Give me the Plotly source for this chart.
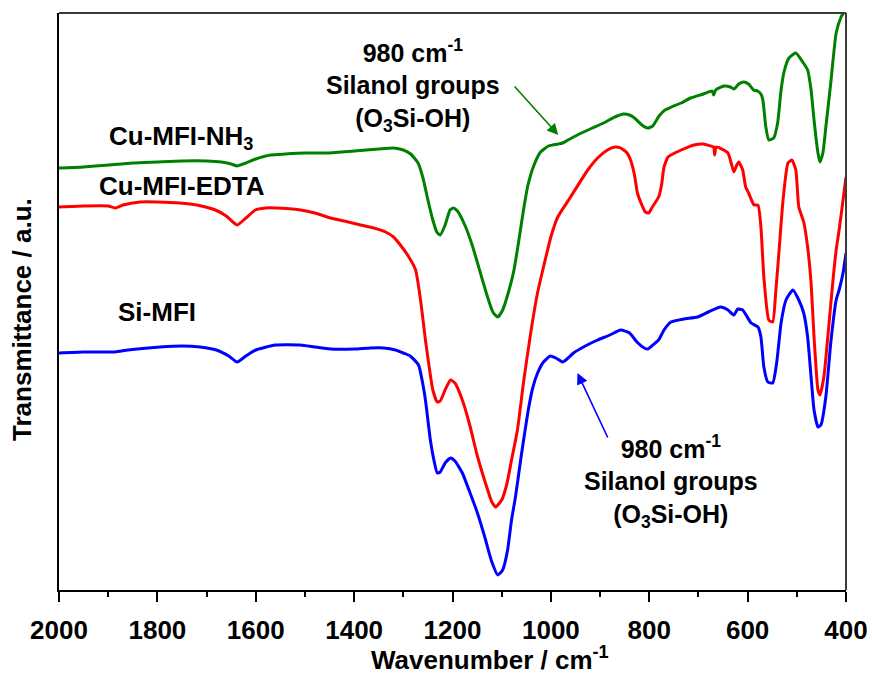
import plotly.graph_objects as go

# ---- data (wavenumber cm-1, transmittance a.u.) ----
nh3_wn = [2000,1950,1900,1850,1800,1750,1700,1670,1650,1638,1620,1600,1570,1540,1500,1450,1400,1350,1320,1300,1285,1270,1260,1250,1240,1232,1225,1215,1205,1198,1190,1175,1160,1145,1130,1118,1108,1098,1085,1075,1065,1055,1047,1035,1021,1005,996,985,976,965,946,920,893,870,852,840,830,815,803,793,780,768,755,735,716,690,672,669,665,648,635,628,618,608,598,588,580,573,569,563,557,547,539,532,526,516,502,488,478,471,465,457,453,447,441,431,420,410,404,400]
nh3_py = [168,167,165,163,162,161,161,162,164,166,163,159,155,154,153,153,151,149,148,150,154,163,178,200,220,232,235,225,210,208,211,225,245,270,295,312,317,310,290,270,240,208,186,166,152,146,145,144,143,140,135,129,123,117,114,115,118,125,128,126,116,110,107,103,98,94,91,95,90,86,87,89,84,82,84,90,91,94,100,127,140,138,123,90,72,58,53,62,70,90,120,153,162,153,127,83,33,17,12,5]

edta_wn = [2000,1950,1900,1886,1870,1835,1800,1754,1720,1682,1660,1638,1620,1601,1580,1560,1509,1480,1448,1420,1387,1360,1336,1320,1306,1290,1275,1265,1255,1248,1240,1231,1225,1215,1204,1195,1180,1165,1150,1135,1120,1112,1100,1090,1080,1068,1055,1041,1028,1015,1000,986,960,925,905,885,870,858,845,838,830,824,815,808,801,795,781,775,770,762,756,735,709,690,675,669,667,664,640,628,622,618,610,604,598,587,579,573,567,557,549,543,536,528,518,510,502,496,486,478,471,465,457,453,445,437,427,420,414,406,400]
edta_py = [207,206,206,208,205,202,202,203,205,210,216,225,218,210,208,208,210,213,218,221,225,228,232,237,245,256,270,300,340,365,390,402,401,390,380,383,400,425,455,480,502,507,500,485,460,430,380,333,295,267,237,217,197,170,158,150,147,148,153,160,175,193,205,212,213,208,197,185,167,157,155,150,145,144,146,147,155,147,153,172,165,162,170,187,193,205,205,227,277,320,322,293,250,200,163,160,170,207,222,247,283,337,390,395,377,337,283,250,230,200,177]

si_wn = [2000,1950,1886,1860,1794,1750,1713,1680,1655,1638,1620,1600,1560,1509,1480,1448,1400,1367,1340,1316,1300,1286,1269,1260,1255,1245,1237,1231,1225,1215,1204,1195,1180,1165,1150,1135,1120,1108,1098,1088,1080,1072,1060,1047,1037,1027,1015,1001,990,976,965,954,930,905,880,858,840,825,810,803,795,781,770,756,730,702,680,655,640,628,620,610,593,579,573,567,559,549,541,532,522,508,496,486,478,471,465,457,451,441,431,420,414,406,400]
si_py = [353,352,352,350,347,346,347,350,356,362,356,350,345,345,347,349,349,348,348,350,353,356,365,385,400,440,462,473,472,463,458,461,473,492,512,536,562,575,570,550,520,497,455,413,388,373,362,356,358,362,358,353,346,340,335,330,333,342,348,349,346,340,330,322,319,317,312,307,310,315,309,310,323,327,337,367,382,383,363,323,300,290,300,313,337,377,410,427,425,397,343,300,290,273,253]

BOTTOM = 590  # values stored as height above the frame bottom
nh3_t = [BOTTOM - v for v in nh3_py]
edta_t = [BOTTOM - v for v in edta_py]
si_t = [BOTTOM - v for v in si_py]

x_ticks = [2000, 1800, 1600, 1400, 1200, 1000, 800, 600, 400]

FONT = "Liberation Sans, Arial, sans-serif"

fig = go.Figure()
for wn, t, col, name in [(nh3_wn, nh3_t, "#008000", "Cu-MFI-NH3"),
                         (edta_wn, edta_t, "#ff0000", "Cu-MFI-EDTA"),
                         (si_wn, si_t, "#0000ff", "Si-MFI")]:
    fig.add_trace(go.Scatter(x=wn, y=t, mode="lines", name=name,
                             line=dict(color=col, width=3, shape="spline", smoothing=0.5),
                             showlegend=False))

fig.update_layout(
    width=872, height=675,
    margin=dict(l=59, r=26, t=13, b=85, autoexpand=False),
    paper_bgcolor="white", plot_bgcolor="white",
    font=dict(family=FONT, size=26, color="black"),
)
fig.update_xaxes(
    range=[2000, 400], autorange=False, automargin=False,
    tickvals=x_ticks, ticktext=[str(v) for v in x_ticks],
    ticks="outside", ticklen=10, tickwidth=2, tickcolor="black",
    minor=dict(dtick=100, tick0=0, ticks="outside", ticklen=5, tickwidth=2, tickcolor="black"),
    showline=True, linecolor="black", linewidth=2, showgrid=False, zeroline=False,
    tickfont=dict(family=FONT, size=26, weight="bold"),
    ticklabelstandoff=6,
)
fig.update_yaxes(
    range=[0, 577], autorange=False, automargin=False,
    showticklabels=False, ticks="", showgrid=False, zeroline=False,
    showline=True, linecolor="black", linewidth=2,
)

# axis titles
title_font = dict(family=FONT, size=26, color="black", weight="bold")
fig.add_annotation(xref="paper", yref="paper", x=0.548, y=-0.118,
                   text="Wavenumber / cm<sup>-1</sup>", showarrow=False,
                   xanchor="center", yanchor="middle", font=title_font)
fig.add_annotation(xref="paper", yref="paper", x=-0.047, y=0.468,
                   text="Transmittance / a.u.", showarrow=False, textangle=-90,
                   xanchor="center", yanchor="middle", font=title_font)

# frame top and right
fig.add_shape(type="line", xref="paper", yref="paper", x0=0, x1=1, y0=1, y1=1,
              line=dict(color="#3a3a3a", width=2))
fig.add_shape(type="line", xref="paper", yref="paper", x0=1, x1=1, y0=0, y1=1,
              line=dict(color="#3a3a3a", width=2))

lab_font = dict(family=FONT, size=26, color="black", weight="bold")
fig.add_annotation(x=1903, y=453, text="Cu-MFI-NH<sub>3</sub>", showarrow=False,
                   xanchor="left", yanchor="middle", font=lab_font)
fig.add_annotation(x=1923, y=404, text="Cu-MFI-EDTA", showarrow=False,
                   xanchor="left", yanchor="middle", font=lab_font)
fig.add_annotation(x=1884, y=278, text="Si-MFI", showarrow=False,
                   xanchor="left", yanchor="middle", font=lab_font)

note = "980 cm<sup>-1</sup><br>Silanol groups<br>(O<sub>3</sub>Si-OH)"
ann_font = dict(family=FONT, size=25, color="black", weight="bold")
fig.add_annotation(x=1281, y=505, text=note, showarrow=False, align="center",
                   xanchor="center", yanchor="middle", font=ann_font)
fig.add_annotation(x=756, y=109, text=note, showarrow=False, align="center",
                   xanchor="center", yanchor="middle", font=ann_font)

# arrows
fig.add_annotation(x=985, y=455, ax=-45, ay=-50, text="", showarrow=True,
                   arrowhead=2, arrowsize=1.4, arrowwidth=1.6, arrowcolor="#008000")
fig.add_annotation(x=946, y=217, ax=31, ay=66, text="", showarrow=True,
                   arrowhead=2, arrowsize=1.4, arrowwidth=1.6, arrowcolor="#0000ff")

fig.write_html("out.html", config={"displayModeBar": False},
               post_script="document.body.style.margin='0';document.body.style.overflow='hidden';")
